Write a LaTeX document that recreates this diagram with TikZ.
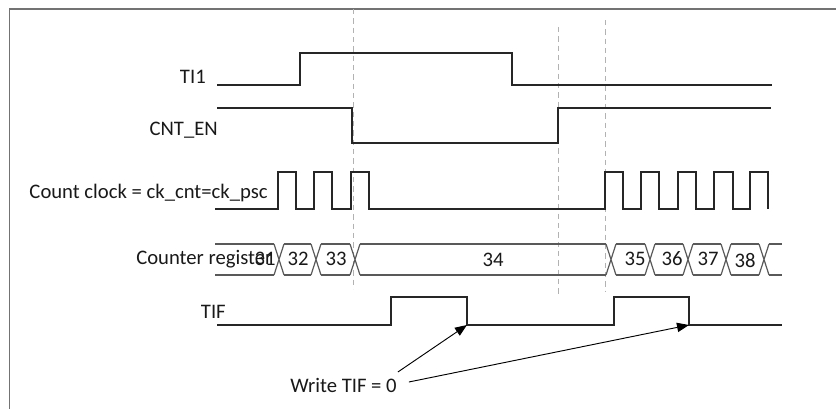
\documentclass[tikz,border=0pt]{standalone}
\usepackage{fontspec}
\setmainfont{Carlito}
\usetikzlibrary{arrows.meta}
\begin{document}
\begin{tikzpicture}[x=0.75pt,y=-0.75pt,
  sig/.style={line width=0.9pt, draw=black!85, line join=miter},
  bus/.style={line width=0.9pt, draw=black!65},
  lbl/.style={font=\fontsize{15.5}{18}\selectfont, inner sep=0pt, text=black!90},
  guide/.style={draw=black!30, dash pattern=on 4pt off 3pt, line width=0.7pt},
  arr/.style={draw=black, line width=0.7pt, -{Triangle[length=9pt,width=7pt]}},
  frame/.style={draw=black!55, line width=1.1pt}]
\useasboundingbox (0,0) rectangle (836,409);
\draw[frame] (9.5,430) -- (9.5,9) -- (850,9);
% guides
\draw[guide] (353,9) -- (353,289);
\draw[guide] (558,27) -- (558,297);
\draw[guide] (605,20) -- (605,292);
% labels
\node[lbl, anchor=east] (lti) at (206,77) {TI1};
\node[lbl, anchor=east] (lcnt) at (218,130) {CNT\_EN};
\node[lbl, anchor=east] (lclk) at (268,193) {Count clock = ck\_cnt=ck\_psc};
\node[lbl, anchor=west] (lreg) at (136,259) {Counter register};
\node[lbl, anchor=east] (ltif) at (226,312) {TIF};
% TI1
\draw[sig] (217,85) -- (300,85) -- (300,53) -- (512,53) -- (512,85) -- (772,85);
% CNT_EN
\draw[sig] (217,108) -- (352,108) -- (352,143) -- (558,143) -- (558,108) -- (771,108);
% clock
\draw[sig] (215,209) -- (278,209) -- (278,172) -- (296,172) -- (296,209) -- (314,209) -- (314,172) -- (332,172) -- (332,209) -- (351,209) -- (351,172) -- (369,172) -- (369,209) -- (605,209) -- (605,172) -- (623,172) -- (623,209) -- (641,209) -- (641,172) -- (659,172) -- (659,209) -- (678,209) -- (678,172) -- (696,172) -- (696,209) -- (714,209) -- (714,172) -- (733,172) -- (733,209) -- (750,209) -- (750,172) -- (768,172) -- (768,209);
% counter bus
\foreach \a/\b in {215/274, 284/311, 321/350, 360/606, 616/645, 655/683, 693/721, 731/759, 769/782}
  {\draw[bus] (\a,244) -- (\b,244) (\a,275) -- (\b,275);}
\foreach \c in {279,316,355,611,650,688,726,764}
  {\draw[bus] (\c-5,244) -- (\c+5,275) (\c-5,275) -- (\c+5,244);}
\node[lbl] (v31) at (265,259) {31};
\node[lbl] (v32) at (298,259) {32};
\node[lbl] (v33) at (336,259) {33};
\node[lbl] (v34) at (493,260) {34};
\node[lbl] (v35) at (635,259) {35};
\node[lbl] (v36) at (672,259) {36};
\node[lbl] (v37) at (708,259) {37};
\node[lbl] (v38) at (745,261) {38};
% TIF
\draw[sig] (217,325) -- (391,325) -- (391,297) -- (467,297) -- (467,325) -- (614,325) -- (614,297) -- (689,297) -- (689,325) -- (782,325);
\coordinate (f1) at (467,325);
\coordinate (f2) at (689,325);
\node[lbl] (w) at (343.5,385) {Write TIF = 0};
\draw[arr] (w.east) ++(1,-13) -- (f1);
\draw[arr] (w.east) ++(12,-3) -- (f2);
\end{tikzpicture}
\end{document}
